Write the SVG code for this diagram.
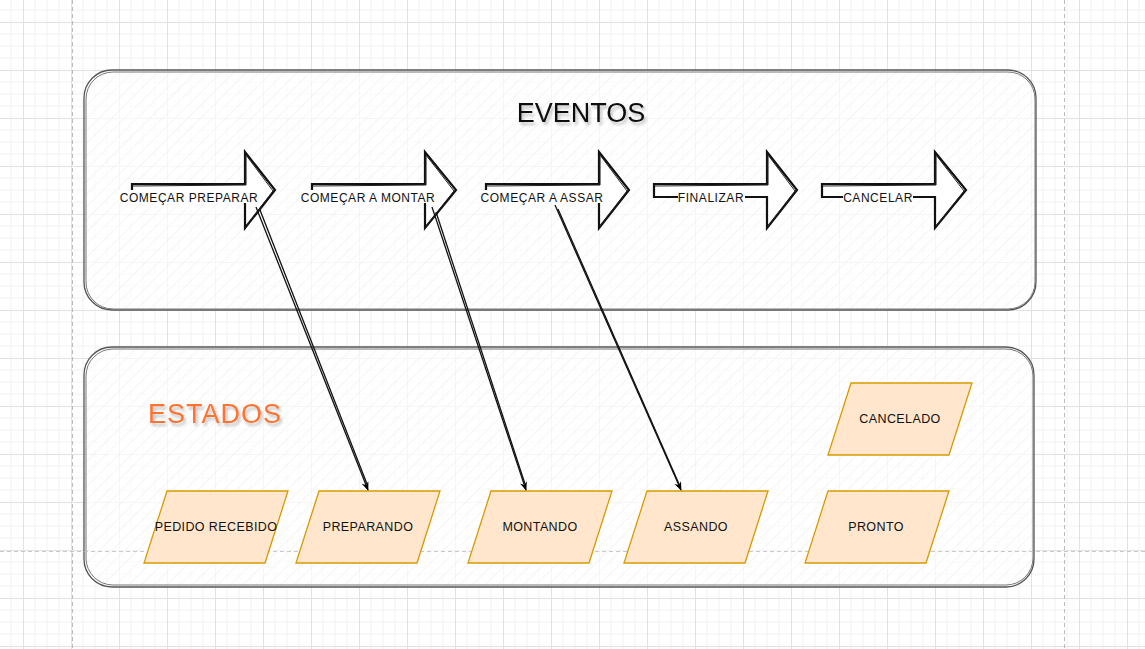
<svg xmlns="http://www.w3.org/2000/svg" width="1145" height="649" viewBox="0 0 1145 649">
  <defs>
    <pattern id="grid" x="23" y="22" width="48" height="48" patternUnits="userSpaceOnUse">
      <path d="M12 0V48M24 0V48M36 0V48M0 12H48M0 24H48M0 36H48" stroke="#f2f2f2" stroke-width="1" fill="none"/>
      <path d="M0.5 0V48M0 0.5H48" stroke="#e2e2e2" stroke-width="1" fill="none"/>
    </pattern>
    <pattern id="hatch" width="9" height="9" patternUnits="userSpaceOnUse" patternTransform="rotate(45)">
      <line x1="0" y1="0" x2="0" y2="9" stroke="#ececec" stroke-width="1"/>
    </pattern>
    <marker id="ah" viewBox="0 0 10 10" refX="9" refY="5" markerWidth="9" markerHeight="9" markerUnits="userSpaceOnUse" orient="auto">
      <path d="M0,1 L10,5 L0,9 L3,5 Z" fill="#000"/>
    </marker>
    <filter id="tshadow" x="-20%" y="-40%" width="140%" height="180%">
      <feGaussianBlur in="SourceAlpha" stdDeviation="1.5"/>
      <feOffset dx="2" dy="3" result="b"/>
      <feComponentTransfer><feFuncA type="linear" slope="0.25"/></feComponentTransfer>
      <feMerge><feMergeNode/><feMergeNode in="SourceGraphic"/></feMerge>
    </filter>
    <style>
      .cont{fill:url(#hatch);stroke:#555;stroke-width:1.3}
      .cont2{fill:none;stroke:#777;stroke-width:1}
      .evt{fill:#fff;stroke:#111;stroke-width:2.2;stroke-linejoin:miter}
      .evt2{fill:none;stroke:#222;stroke-width:1}
      .lblbg{fill:#fff}
      .lbl{font-family:"Liberation Sans",Arial,sans-serif;font-size:12px;letter-spacing:0.55px;fill:#111;text-anchor:middle}
      .st{fill:#ffe6cc;stroke:#d79b00;stroke-width:1.3}
      .stl{font-family:"Liberation Sans",Arial,sans-serif;font-size:12.5px;letter-spacing:0.4px;fill:#111;text-anchor:middle}
      .edge{fill:none;stroke:#111;stroke-width:1.3}
      .title{font-family:"Liberation Sans",Arial,sans-serif;font-size:27px;text-anchor:middle}
      .page{stroke:#bbb;stroke-width:1;stroke-dasharray:4 3;fill:none}
    </style>
  </defs>

  <rect width="1145" height="649" fill="#fff"/>
  <rect width="1145" height="649" fill="url(#grid)"/>
  <g id="page-border">
    <line class="page" x1="72.5" y1="0" x2="72.5" y2="649"/>
    <line class="page" x1="1064.5" y1="0" x2="1064.5" y2="649"/>
  </g>

  <g id="eventos-container">
    <rect x="84" y="70" width="952" height="240" rx="28" fill="#fff" fill-opacity="0.7"/>
    <rect class="cont" x="84" y="70" width="952" height="240" rx="28"/>
    <rect class="cont2" x="86" y="72" width="949" height="237" rx="27"/>
    <text class="title" x="581" y="122" fill="#111" filter="url(#tshadow)">EVENTOS</text>
  </g>

  <g id="estados-container">
    <rect x="84" y="347" width="950" height="240" rx="28" fill="#fff" fill-opacity="0.7"/>
    <rect class="cont" x="84" y="347" width="950" height="240" rx="28"/>
    <rect class="cont2" x="86" y="349" width="947" height="236" rx="27"/>
    <text class="title" x="215" y="423" fill="#ff7330" letter-spacing="1" filter="url(#tshadow)">ESTADOS</text>
  </g>

  <line class="page" x1="0" y1="551.5" x2="1145" y2="551.5" opacity="0.8"/>

  <g id="evt-comecar-preparar">
    <path class="evt" d="M132,184 L245,184 L245,152 L275,190 L245,228 L245,197 L132,197 Z"/>
    <path class="evt2" d="M133,186 L246,185 L246,155 L273,191 L246,226"/>
    <rect class="lblbg" x="119" y="190" width="139" height="13"/>
    <text class="lbl" x="189" y="201.5">COMEÇAR PREPARAR</text>
  </g>
  <g id="evt-comecar-montar">
    <path class="evt" d="M312,184 L425,184 L425,152 L456,190 L425,228 L425,197 L312,197 Z"/>
    <path class="evt2" d="M313,186 L426,185 L426,155 L454,191 L426,226"/>
    <rect class="lblbg" x="300" y="190" width="137" height="13"/>
    <text class="lbl" x="368" y="201.5">COMEÇAR A MONTAR</text>
  </g>
  <g id="evt-comecar-assar">
    <path class="evt" d="M486,184 L599,184 L599,152 L629,190 L599,228 L599,197 L486,197 Z"/>
    <path class="evt2" d="M487,186 L600,185 L600,155 L627,191 L600,226"/>
    <rect class="lblbg" x="480" y="190" width="125" height="13"/>
    <text class="lbl" x="542" y="201.5">COMEÇAR A ASSAR</text>
  </g>
  <g id="evt-finalizar">
    <path class="evt" d="M654,184 L767,184 L767,152 L797,190 L767,228 L767,197 L654,197 Z"/>
    <path class="evt2" d="M655,186 L768,185 L768,155 L795,191 L768,226"/>
    <rect class="lblbg" x="678" y="190" width="67" height="13"/>
    <text class="lbl" x="711" y="201.5">FINALIZAR</text>
  </g>
  <g id="evt-cancelar">
    <path class="evt" d="M822,184 L935,184 L935,152 L966,190 L935,228 L935,197 L822,197 Z"/>
    <path class="evt2" d="M823,186 L936,185 L936,155 L964,191 L936,226"/>
    <rect class="lblbg" x="843" y="190" width="70" height="13"/>
    <text class="lbl" x="878" y="201.5">CANCELAR</text>
  </g>

  <g id="st-pedido-recebido">
    <polygon class="st" points="167,491 288,491 265,563 144,563"/>
    <text class="stl" x="216" y="531">PEDIDO RECEBIDO</text>
  </g>
  <g id="st-preparando">
    <polygon class="st" points="319,491 440,491 417,563 296,563"/>
    <text class="stl" x="368" y="531">PREPARANDO</text>
  </g>
  <g id="st-montando">
    <polygon class="st" points="491,491 612,491 589,563 468,563"/>
    <text class="stl" x="540" y="531">MONTANDO</text>
  </g>
  <g id="st-assando">
    <polygon class="st" points="647,491 768,491 745,563 624,563"/>
    <text class="stl" x="696" y="531">ASSANDO</text>
  </g>
  <g id="st-pronto">
    <polygon class="st" points="828,491 949,491 926,563 805,563"/>
    <text class="stl" x="876" y="531">PRONTO</text>
  </g>
  <g id="st-cancelado">
    <polygon class="st" points="851,383 972,383 949,455 828,455"/>
    <text class="stl" x="900" y="423">CANCELADO</text>
  </g>

  <g id="connectors">
    <path class="edge" d="M256,207 L368,490" marker-end="url(#ah)"/>
    <path class="edge" d="M260,210 L367,484"/>
    <path class="edge" d="M432,207 L526,490" marker-end="url(#ah)"/>
    <path class="edge" d="M436,212 L525,484"/>
    <path class="edge" d="M555,205 L681,490" marker-end="url(#ah)"/>
    <path class="edge" d="M558,209 L679,484"/>
  </g>
</svg>
